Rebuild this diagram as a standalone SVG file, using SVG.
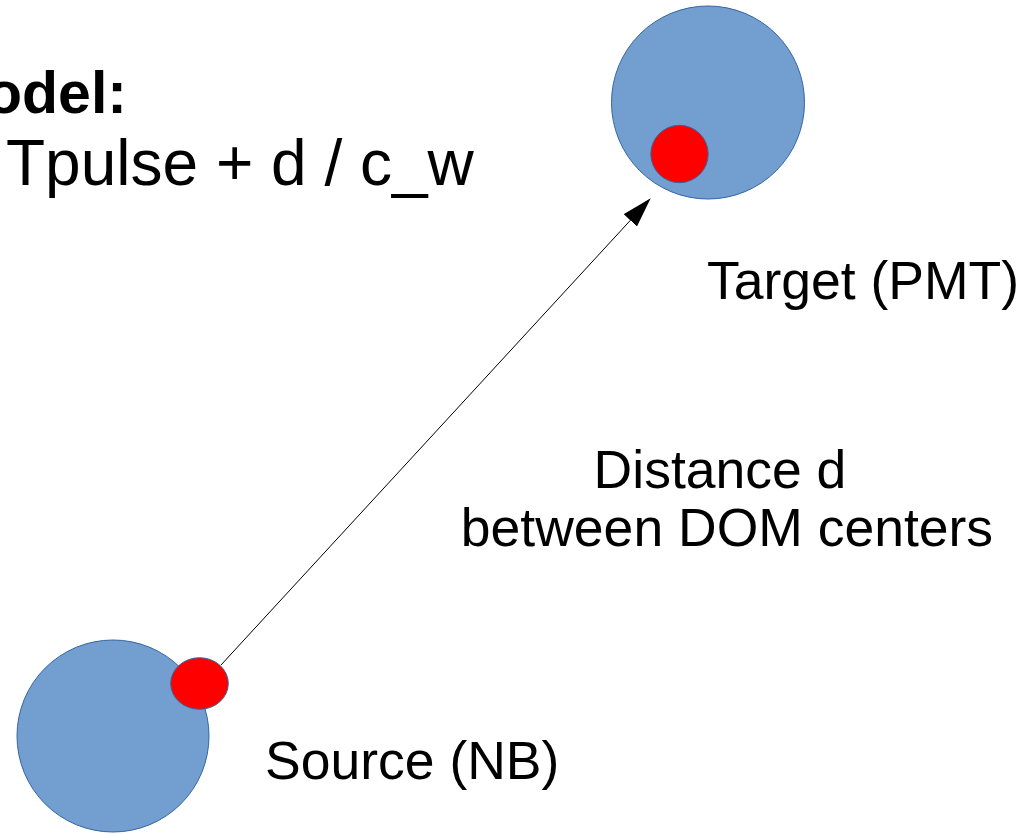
<svg xmlns="http://www.w3.org/2000/svg" width="1033" height="834" viewBox="0 0 1033 834">
<style>
.dom{fill:#729fcf;stroke:#3465a4;stroke-width:1}
.pmt{fill:#ff0000;stroke:#3465a4;stroke-width:1}
.lbl{font-family:"Liberation Sans",Arial,sans-serif;font-size:53.5px;fill:#000}
.ttl{font-family:"Liberation Sans",Arial,sans-serif;font-size:59px;font-weight:bold;fill:#000}
.eq{font-family:"Liberation Sans",Arial,sans-serif;font-size:64px;fill:#000}
</style>
<defs>
<marker id="ah" viewBox="0 0 30 18" refX="29" refY="9" markerWidth="30" markerHeight="18" markerUnits="userSpaceOnUse" orient="auto">
<path d="M0,0 L30,9 L0,18 Z" fill="#000"/>
</marker>
</defs>
<rect width="1033" height="834" fill="#fff"/>
<g id="title">
<text class="ttl" x="-14" y="113">odel:</text>
<text class="eq" x="6" y="185">Tpulse + d / c_w</text>
</g>
<g id="target">
<circle class="dom" cx="708" cy="102.5" r="96.5"/>
<circle class="pmt" cx="679.5" cy="154" r="28.7"/>
<text class="lbl" x="707" y="299">Target (PMT)</text>
</g>
<g id="source">
<circle class="dom" cx="113" cy="736" r="96"/>
<ellipse class="pmt" cx="199.5" cy="683.5" rx="28.8" ry="25.8"/>
<text class="lbl" x="265" y="779">Source (NB)</text>
</g>
<g id="distance-label">
<text class="lbl" x="720" y="488" text-anchor="middle">Distance d</text>
<text class="lbl" x="727" y="546" text-anchor="middle">between DOM centers</text>
</g>
<g id="connectors">
<line x1="221" y1="665" x2="650" y2="199" stroke="#000" stroke-width="1" marker-end="url(#ah)"/>
</g>
</svg>
